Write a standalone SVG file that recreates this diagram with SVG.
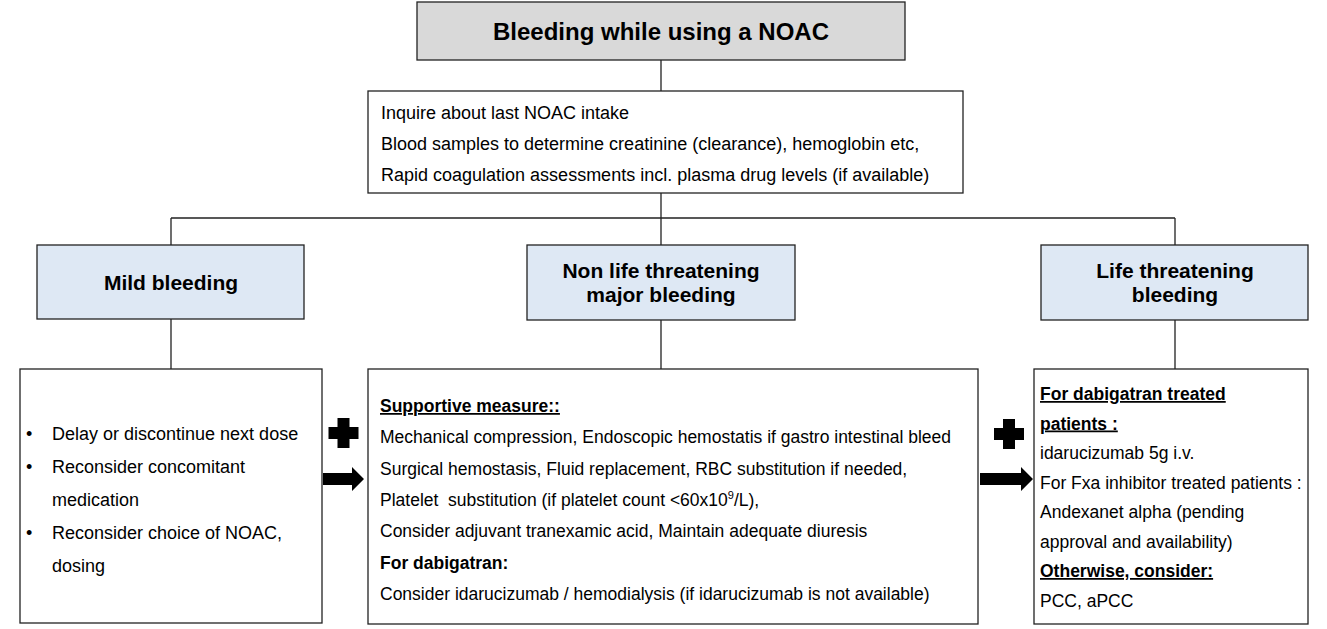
<svg xmlns="http://www.w3.org/2000/svg" width="1327" height="629" viewBox="0 0 1327 629">
<style>
text{font-family:"Liberation Sans",Arial,sans-serif;fill:#000}
.box{fill:#fff;stroke:#222;stroke-width:1.3}
.top{fill:#d9d9d9;stroke:#222;stroke-width:1.3}
.cat{fill:#dee8f4;stroke:#222;stroke-width:1.3}
.ln{stroke:#222;stroke-width:1.3;fill:none}
.t18{font-size:18px}
.t17{font-size:17.5px}
.h{font-size:21px;font-weight:bold;text-anchor:middle}
.b{font-weight:bold}
.u{text-decoration:underline}
.sym{fill:#000}
</style>
<rect width="1327" height="629" fill="#fff"/>
<g id="connectors">
<path class="ln" d="M661 60V91M661 193V245M171 218H1175M171 218V245M1175 218V245M171 319V369M661 320V369M1175 320V369"/>
</g>
<g id="title">
<rect class="top" x="417" y="2" width="488" height="58"/>
<text x="661" y="40" font-size="24" font-weight="bold" text-anchor="middle">Bleeding while using a NOAC</text>
</g>
<g id="initial">
<rect class="box" x="368" y="91" width="595" height="102"/>
<text class="t18" x="381" y="119">Inquire about last NOAC intake</text>
<text class="t18" x="381" y="150">Blood samples to determine creatinine (clearance), hemoglobin etc,</text>
<text class="t18" x="381" y="181">Rapid coagulation assessments incl. plasma drug levels (if available)</text>
</g>
<g id="mild">
<rect class="cat" x="37" y="245" width="267" height="74"/>
<text class="h" x="171" y="290">Mild bleeding</text>
</g>
<g id="nonlife">
<rect class="cat" x="527" y="245" width="268" height="75"/>
<text class="h" x="661" y="278">Non life threatening</text>
<text class="h" x="661" y="302">major bleeding</text>
</g>
<g id="life">
<rect class="cat" x="1041" y="245" width="267" height="75"/>
<text class="h" x="1175" y="278">Life threatening</text>
<text class="h" x="1175" y="302">bleeding</text>
</g>
<g id="mild-actions">
<rect class="box" x="20" y="369" width="302" height="254"/>
<text class="t18" x="26" y="440">•</text><text class="t18" x="52" y="440">Delay or discontinue next dose</text>
<text class="t18" x="26" y="473">•</text><text class="t18" x="52" y="473">Reconsider concomitant</text>
<text class="t18" x="52" y="506">medication</text>
<text class="t18" x="26" y="539">•</text><text class="t18" x="52" y="539">Reconsider choice of NOAC,</text>
<text class="t18" x="52" y="572">dosing</text>
</g>
<g id="plus-arrow-1">
<path class="sym" d="M337.5 418h12v9h9v12h-9v9h-12v-9h-9v-12h9z"/>
<path class="sym" d="M323 473H352V467L364 479L352 491V485H323Z"/>
</g>
<g id="nonlife-actions">
<rect class="box" x="368" y="369" width="610" height="255"/>
<text class="t17 b u" x="380" y="412">Supportive measure::</text>
<text class="t17" x="380" y="443.3">Mechanical compression, Endoscopic hemostatis if gastro intestinal bleed</text>
<text class="t17" x="380" y="474.6">Surgical hemostasis, Fluid replacement, RBC substitution if needed,</text>
<text class="t17" x="380" y="505.9" xml:space="preserve">Platelet  substitution (if platelet count &lt;60x10<tspan font-size="11" dy="-7">9</tspan><tspan dy="7">/L),</tspan></text>
<text class="t17" x="380" y="537.2">Consider adjuvant tranexamic acid, Maintain adequate diuresis</text>
<text class="t17 b" x="380" y="568.5">For dabigatran:</text>
<text class="t17" x="380" y="599.8">Consider idarucizumab / hemodialysis (if idarucizumab is not available)</text>
</g>
<g id="plus-arrow-2">
<path class="sym" d="M1003 419h12v9h9v12h-9v9h-12v-9h-9v-12h9z"/>
<path class="sym" d="M980 473H1021V467L1033 479L1021 491V485H980Z"/>
</g>
<g id="life-actions">
<rect class="box" x="1034" y="369" width="274" height="255"/>
<text class="t17 b u" x="1040" y="400">For dabigatran treated</text>
<text class="t17 b u" x="1040" y="429.5">patients :</text>
<text class="t17" x="1040" y="459">idarucizumab 5g i.v.</text>
<text class="t17" x="1040" y="488.5">For Fxa inhibitor treated patients :</text>
<text class="t17" x="1040" y="518">Andexanet alpha (pending</text>
<text class="t17" x="1040" y="547.5">approval and availability)</text>
<text class="t17 b u" x="1040" y="577">Otherwise, consider:</text>
<text class="t17" x="1040" y="606.5">PCC, aPCC</text>
</g>
</svg>
